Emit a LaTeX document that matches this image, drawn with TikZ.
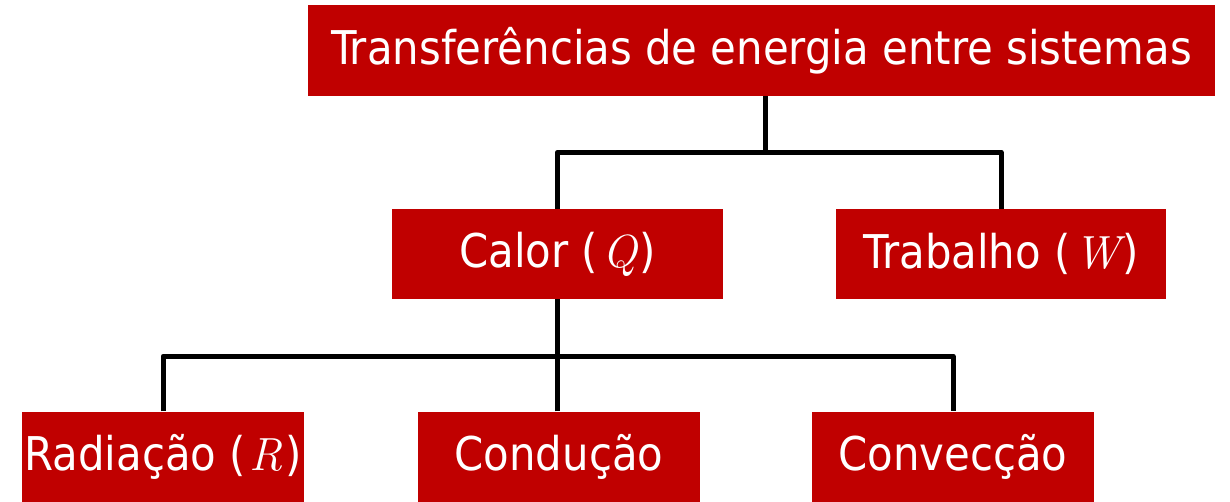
\documentclass[tikz,border=0pt]{standalone}
\usepackage{fontspec}
\setmainfont{DejaVu Sans Condensed}
\newfontfamily\varfont{Latin Modern Roman}
\usepackage{tikz}
\usetikzlibrary{positioning}
\definecolor{boxred}{HTML}{C00000}

\newcommand{\qty}[1]{\kern4pt{\varfont\itshape #1}\kern2pt}

\tikzset{
  redbox/.style={fill=boxred, text=white, inner sep=0pt,
    minimum height=90pt, font=\fontsize{46.5}{56}\selectfont},
  link/.style={black, line width=5pt, line join=round}
}

\begin{document}
\begin{tikzpicture}[x=1pt, y=-1pt]
        \useasboundingbox (0,0) rectangle (1230,501);

        % Top level
        \node[redbox, minimum width=907pt, minimum height=91pt] (energia) at (761.5,50.5) {Transferências de energia entre sistemas};

        % Second level
        \node[redbox, minimum width=331pt] (calor) at (557.5,254) {Calor (\qty{Q})};
        \node[redbox, minimum width=330pt] (trabalho) at (1001,254) {Trabalho (\qty{W})};

        % Third level
        \node[redbox, minimum width=282pt] (radiacao) at (163,456.5) {Radiação (\qty{R})};
        \node[redbox, minimum width=282pt] (conducao) at (559,456.5) {Condução};
        \node[redbox, minimum width=282pt] (conveccao) at (953,456.5) {Convecção};

        % Connectors
        \draw[link] ([xshift=3.5pt]energia.south) -- ++(0,56) coordinate (j1);
        \draw[link] (calor.north) |- (j1) -| (trabalho.north);
        \draw[link] (calor.south) -- ++(0,57) coordinate (j2);
        \draw[link] (radiacao.north) |- (j2) -| (conveccao.north);
        \draw[link] (conducao.north -| j2) -- (j2);
    \end{tikzpicture}
\end{document}
